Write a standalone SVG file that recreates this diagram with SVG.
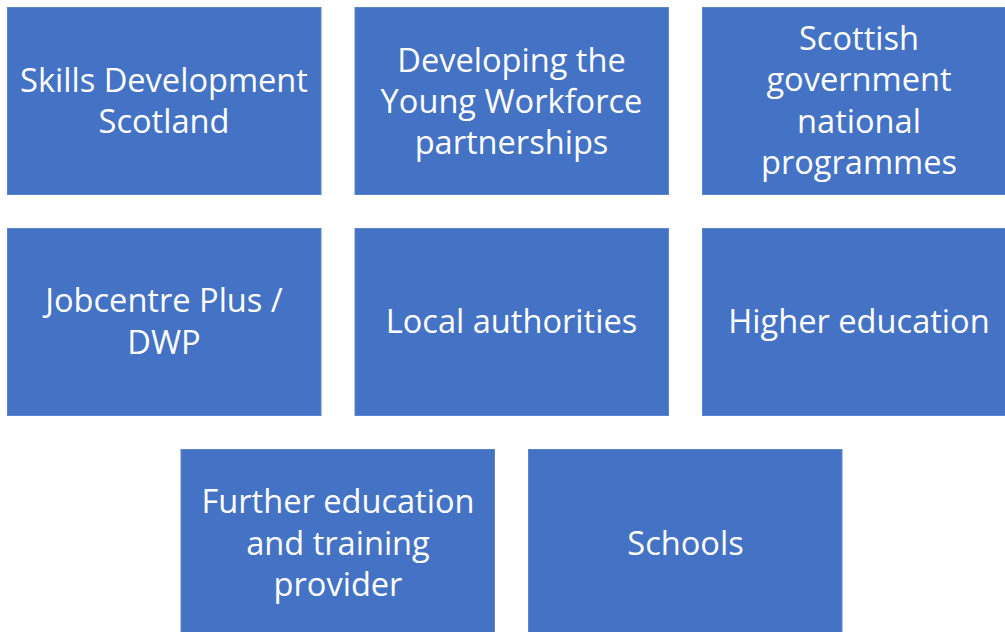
<svg xmlns="http://www.w3.org/2000/svg" width="1005" height="632" viewBox="0 0 1005 632">
<style>
.box{fill:#4472C4;stroke:#5B84CC;stroke-width:1}
.t{font-family:"Open Sans","Liberation Sans",sans-serif;font-size:32.6px;fill:#FFFFFF;text-anchor:middle}
</style>
<rect width="1005" height="632" fill="#FFFFFF"/>
<g id="connectors"/>
<g id="n1"><rect class="box" x="7.5" y="7.5" width="313.5" height="187"/><text class="t" x="164" y="92">Skills Development</text><text class="t" x="164" y="133">Scotland</text></g>
<g id="n2"><rect class="box" x="355" y="7.5" width="313.5" height="187"/><text class="t" x="511.5" y="72">Developing the</text><text class="t" x="511.5" y="113">Young Workforce</text><text class="t" x="511.5" y="154">partnerships</text></g>
<g id="n3"><rect class="box" x="702.5" y="7.5" width="313.5" height="187"/><text class="t" x="859" y="50">Scottish</text><text class="t" x="859" y="91">government</text><text class="t" x="859" y="133">national</text><text class="t" x="859" y="174">programmes</text></g>
<g id="n4"><rect class="box" x="7.5" y="228.5" width="313.5" height="187"/><text class="t" x="164" y="312">Jobcentre Plus /</text><text class="t" x="164" y="354">DWP</text></g>
<g id="n5"><rect class="box" x="355" y="228.5" width="313.5" height="187"/><text class="t" x="511.5" y="333">Local authorities</text></g>
<g id="n6"><rect class="box" x="702.5" y="228.5" width="313.5" height="187"/><text class="t" x="859" y="333">Higher education</text></g>
<g id="n7"><rect class="box" x="181" y="449.5" width="313.5" height="187"/><text class="t" x="338" y="513">Further education</text><text class="t" x="338" y="555">and training</text><text class="t" x="338" y="596">provider</text></g>
<g id="n8"><rect class="box" x="528.5" y="449.5" width="313.5" height="187"/><text class="t" x="685.5" y="555">Schools</text></g>
</svg>
